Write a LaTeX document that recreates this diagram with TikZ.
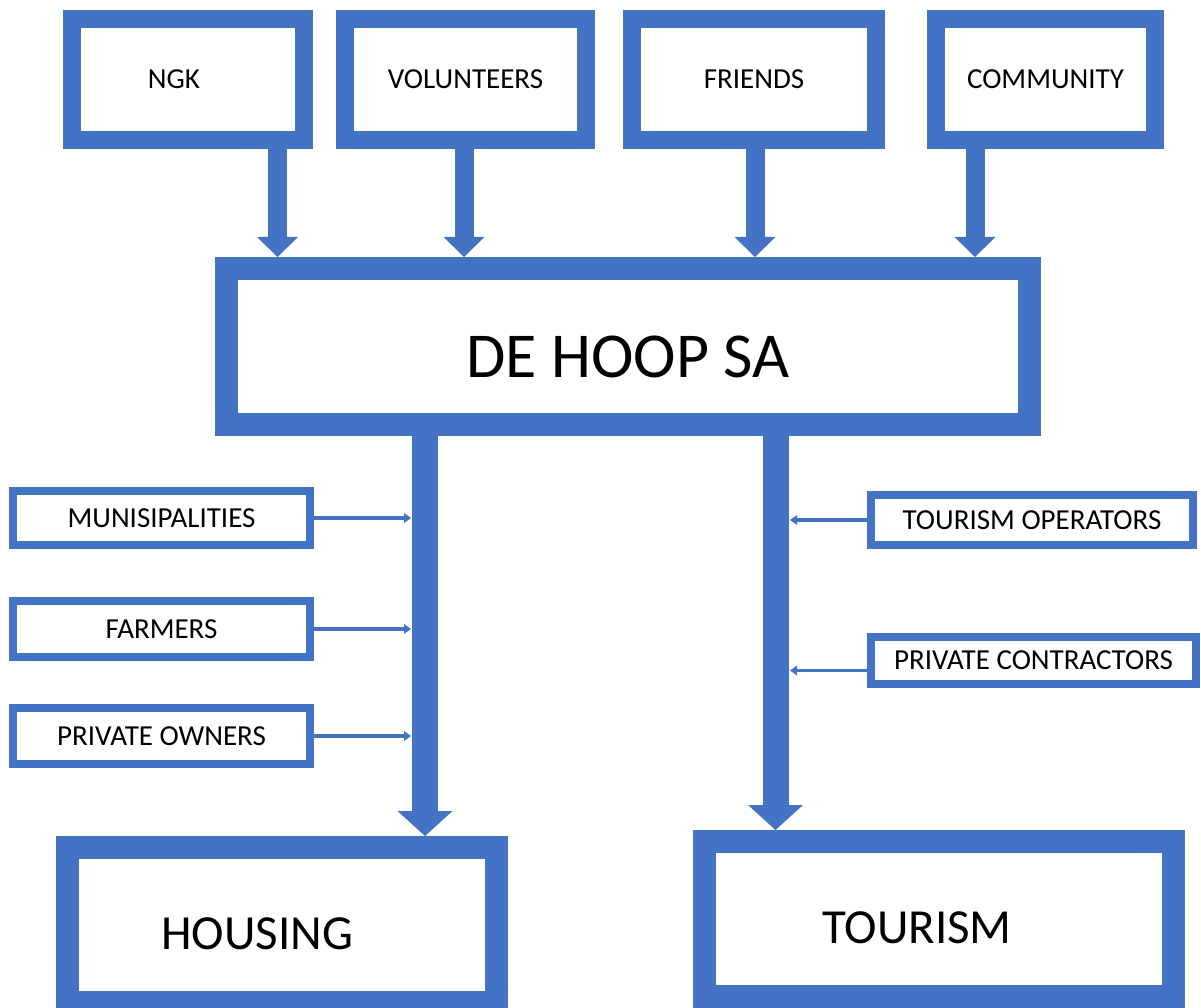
\documentclass[tikz,border=0pt]{standalone}
\usepackage{fontspec}
\setmainfont{Carlito}
\usetikzlibrary{arrows.meta}
\definecolor{hoopblue}{HTML}{4472C4}

\begin{document}
\begin{tikzpicture}[
    x=1pt, y=-1pt,
    topbox/.style={draw=hoopblue, line width=18pt, fill=white, inner sep=0pt,
      minimum height=121pt, font=\fontsize{29}{34}\selectfont},
    mainbox/.style={draw=hoopblue, line width=23pt, fill=white, inner sep=0pt,
      minimum height=155pt, text height=50pt, font=\fontsize{49}{58}\selectfont},
    sidebox/.style={draw=hoopblue, line width=8pt, fill=white, inner sep=0pt,
      font=\fontsize{29}{34}\selectfont},
    feed/.style={hoopblue, line width=19pt, -{Triangle[width=41pt, length=20pt, line width=0pt]}},
    flow/.style={hoopblue, line width=26pt, -{Triangle[width=55pt, length=25pt, line width=0pt]}},
    link/.style={hoopblue, line width=3.5pt, -{Triangle[width=10pt, length=7pt, line width=0pt]}}
  ]
    \useasboundingbox (0,0) rectangle (1201,1008);
    % supporters on top
    \node[topbox, minimum width=232pt] (ngk) at (188,   79.5) {NGK\hspace*{28pt}};
    \node[topbox, minimum width=241pt] (vol) at (465.5, 79.5) {VOLUNTEERS};
    \node[topbox, minimum width=244pt] (fri) at (754,   79.5) {FRIENDS};
    \node[topbox, minimum width=219pt] (com) at (1045.5,79.5) {COMMUNITY};
    % the organisation itself
    \node[mainbox, minimum width=803pt, minimum height=156pt, text height=62pt,
      font=\fontsize{64}{76}\selectfont] (hoop) at (628,346.5) {DE HOOP SA};
    % two projects at the bottom
    \node[mainbox, minimum width=429pt] (housing) at (282,925) {HOUSING\hspace*{50pt}};
    \node[mainbox, minimum width=469pt] (tourism) at (939,919) {TOURISM\hspace*{44pt}};
    % partners on both sides
    \node[sidebox, minimum width=297pt, minimum height=54pt] (mun)  at (161.5,518) {MUNISIPALITIES};
    \node[sidebox, minimum width=297pt, minimum height=56pt] (farm) at (161.5,629) {FARMERS};
    \node[sidebox, minimum width=297pt, minimum height=56pt] (own)  at (161.5,736) {PRIVATE OWNERS};
    \node[sidebox, minimum width=322pt, minimum height=50pt] (tops) at (1032,520)  {TOURISM OPERATORS};
    \node[sidebox, minimum width=325pt, minimum height=47pt] (pcon) at (1033.5,660.5) {PRIVATE CONTRACTORS};
    % columns of the arrows
    \coordinate (c1) at (277.5,0);
    \coordinate (c2) at (464,0);
    \coordinate (c3) at (755,0);
    \coordinate (c4) at (975,0);
    \coordinate (lcol) at (425,0);
    \coordinate (rcol) at (775.5,0);
    \coordinate (lbar) at (411,0);
    \coordinate (rbar) at (790,0);
    \foreach \b/\c in {ngk/c1, vol/c2, fri/c3, com/c4} {
      \draw[feed] (\b.south -| \c) -- (hoop.north -| \c);
    }
    \draw[flow] (hoop.south -| lcol) -- (housing.north -| lcol);
    \draw[flow] (hoop.south -| rcol) -- (tourism.north -| rcol);
    \foreach \b in {mun,farm,own} {
      \draw[link] (\b.east) -- (\b.east -| lbar);
    }
    \draw[link] (tops.west) -- (tops.west -| rbar);
    \draw[link] ([yshift=-10pt]pcon.west) -- ([yshift=-10pt]pcon.west -| rbar);
  \end{tikzpicture}
\end{document}
